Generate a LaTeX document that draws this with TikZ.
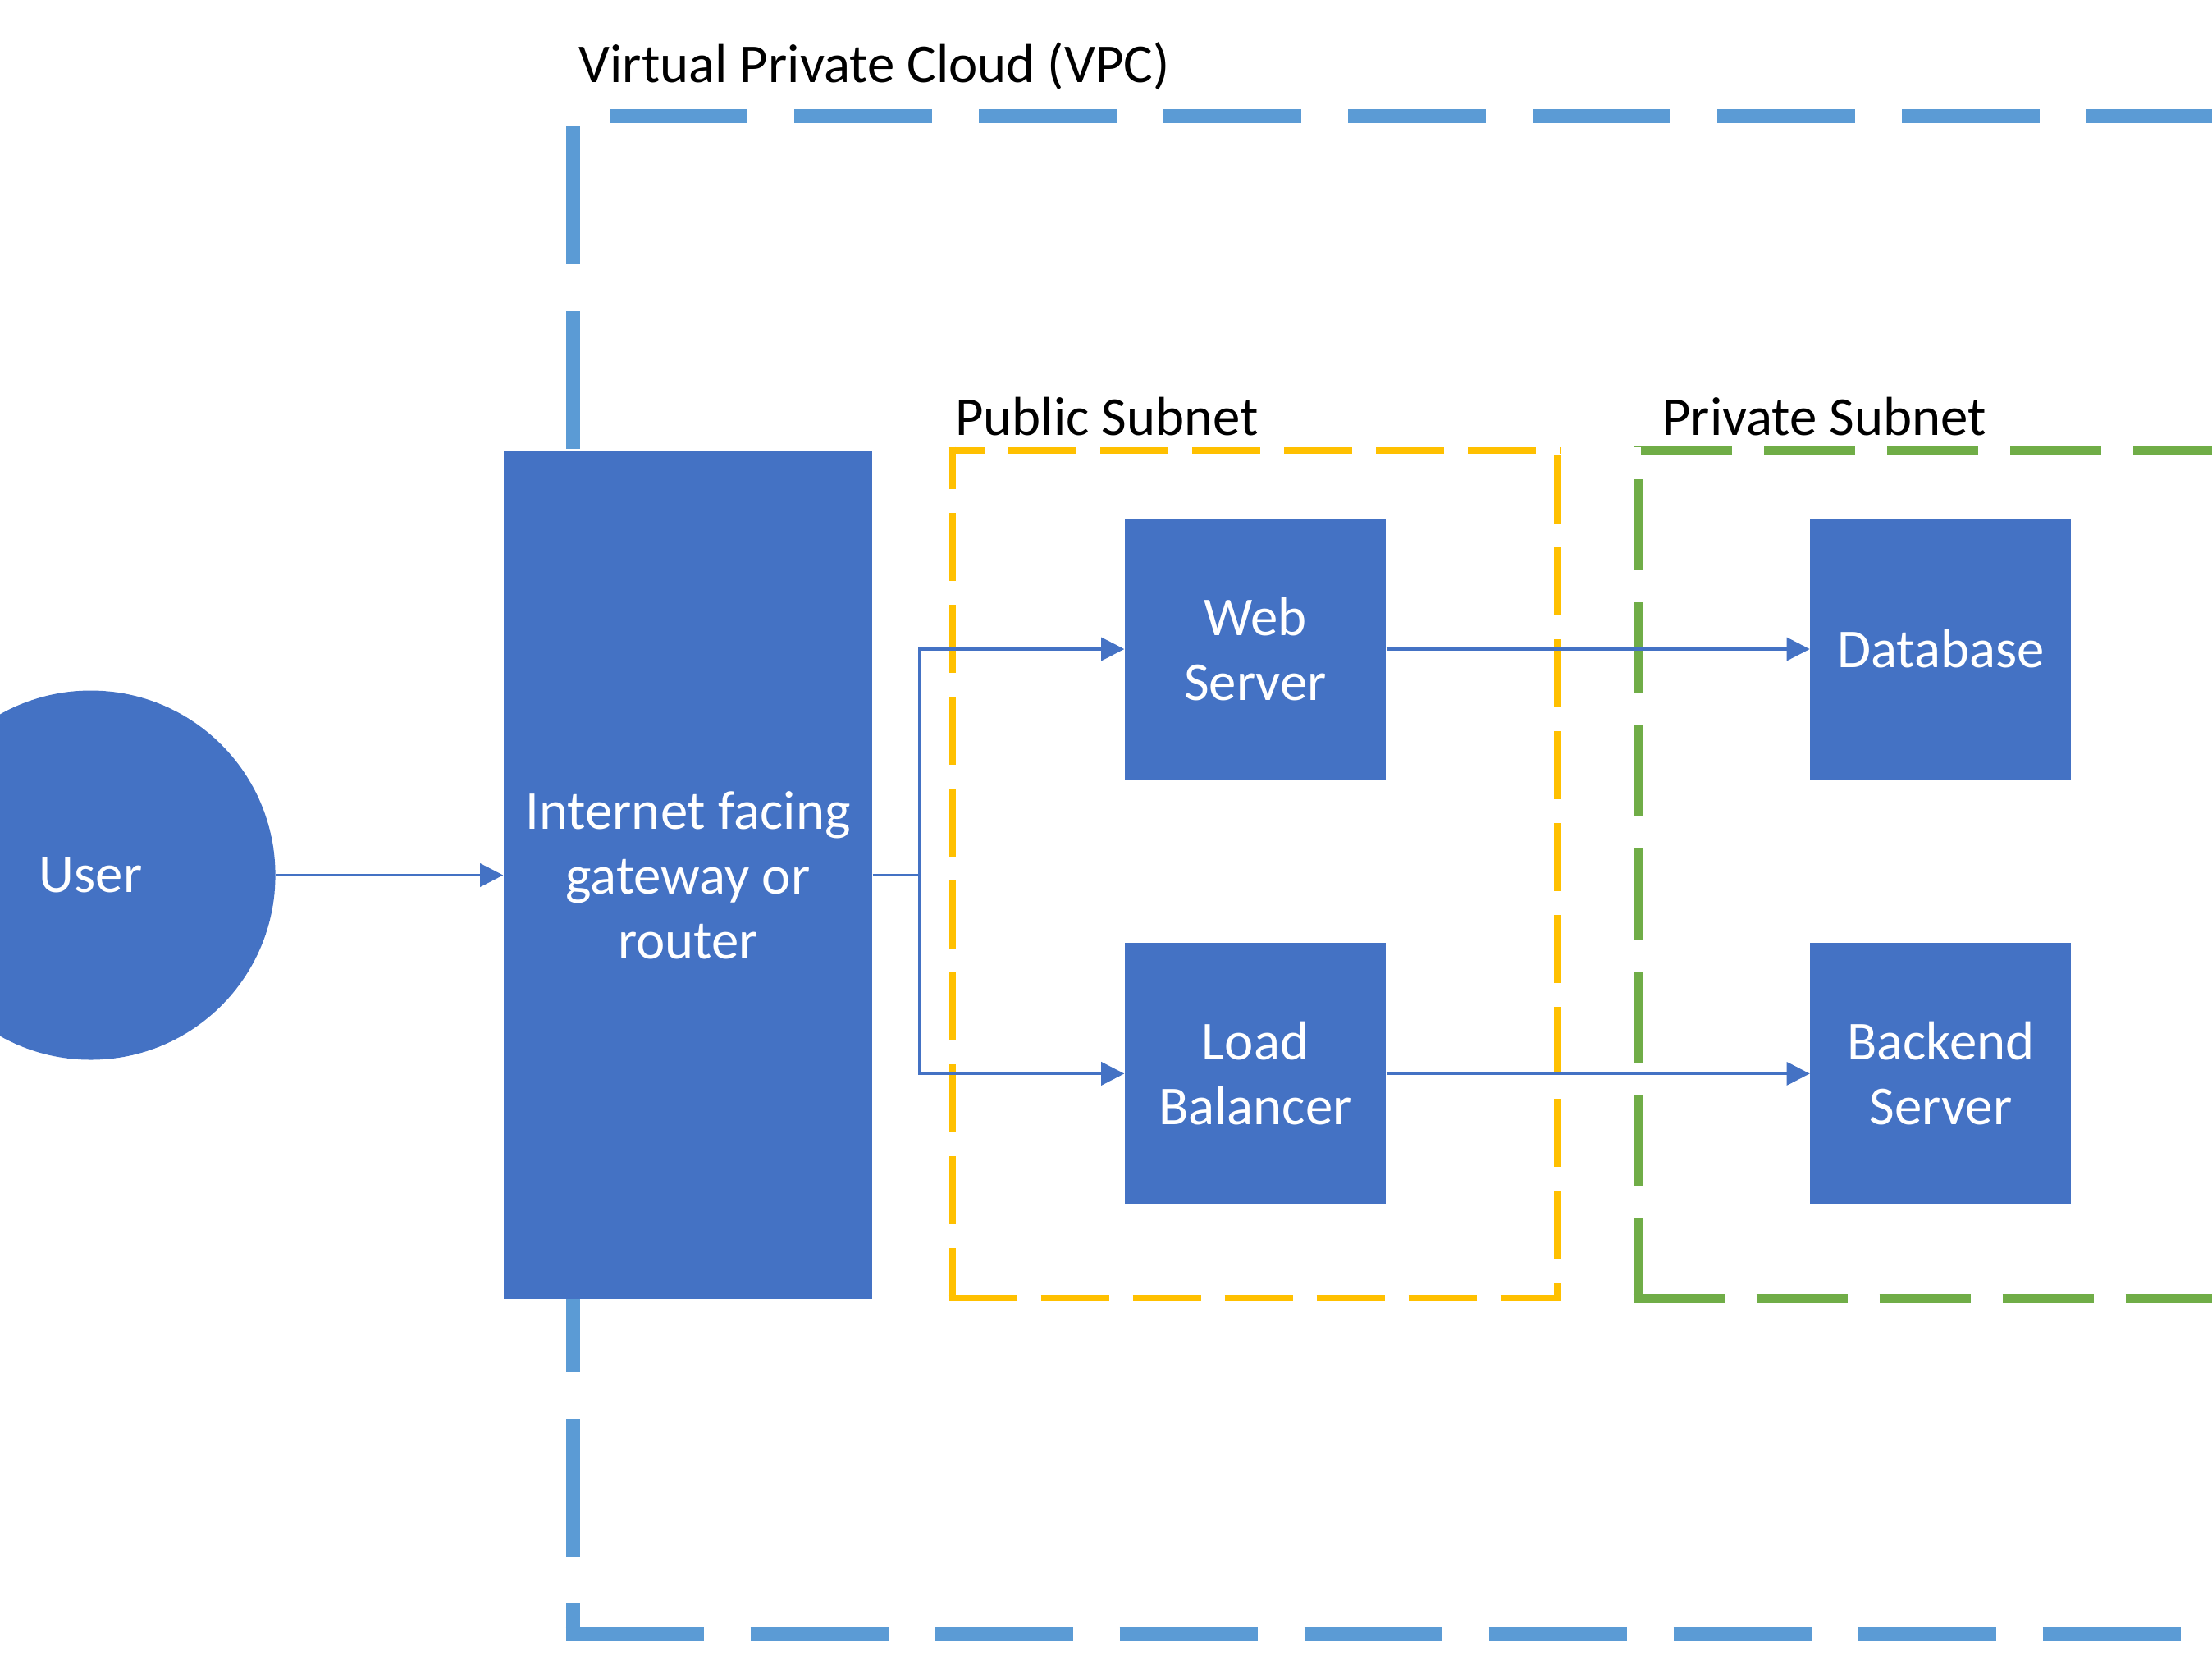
\documentclass[tikz,border=0pt]{standalone}
\usepackage{fontspec}
\setmainfont{Carlito}
\usetikzlibrary{arrows.meta, positioning}

\definecolor{boxblue}{HTML}{4472C4}
\definecolor{vpcblue}{HTML}{5B9BD5}
\definecolor{pubyellow}{HTML}{FFC000}
\definecolor{privgreen}{HTML}{70AD47}

\begin{document}
\begin{tikzpicture}[
    font=\fontsize{19}{22.5}\selectfont,
    >={Triangle[length=8pt, width=8pt]},
    srvbox/.style={rectangle, fill=boxblue, text=white, inner sep=0pt, minimum width=3.18cm, minimum height=3.18cm, align=center},
    gwbox/.style={srvbox, minimum width=4.49cm, minimum height=10.33cm},
    userdot/.style={circle, fill=boxblue, text=white, inner sep=0pt, minimum size=4.5cm},
    flow/.style={->, draw=boxblue, line width=0.95pt},
    wire/.style={draw=boxblue, line width=0.95pt},
    vpcline/.style={draw=vpcblue, line width=0.17cm, dash pattern=on 1.68cm off 0.57cm},
    publine/.style={draw=pubyellow, line width=0.087cm, dash pattern=on 0.83cm off 0.29cm},
    privline/.style={draw=privgreen, line width=0.11cm, dash pattern=on 1.11cm off 0.39cm},
    label/.style={anchor=base west, inner sep=0pt}
]
    \useasboundingbox (0,0) rectangle (26.96,-20.22);
    \clip (0,0) rectangle (26.96,-20.22);

    % VPC frame (right side runs off the page)
    \draw[vpcline, dash phase=1.715cm] (6.895,-1.41) -- (28.0,-1.41);
    \draw[vpcline, dash phase=2.035cm] (6.98,-1.325) -- (6.98,-19.995);
    \draw[vpcline] (6.895,-19.91) -- (28.0,-19.91);
    \node[label] (vpclabel) at (7.05,-1.00) {Virtual Private Cloud (VPC)};

    % public subnet frame
    \draw[publine, dash phase=0.396cm] (11.5665,-5.49) -- (19.0235,-5.49);
    \draw[publine, dash phase=1.0165cm] (18.98,-5.4465) -- (18.98,-15.8635);
    \draw[publine] (11.5665,-15.82) -- (19.0235,-15.82);
    \draw[publine, dash phase=0.3165cm] (11.61,-5.4465) -- (11.61,-15.8635);
    \node[label] (publabel) at (11.635,-5.30) {Public Subnet};

    % private subnet frame
    \draw[privline, dash phase=1.405cm] (19.905,-5.49) -- (27.385,-5.49);
    \draw[privline, dash phase=1.095cm] (19.96,-5.435) -- (19.96,-15.875);
    \draw[privline] (19.905,-15.82) -- (27.385,-15.82);
    \draw[privline] (27.33,-5.435) -- (27.33,-15.875);
    \node[label] (privlabel) at (20.255,-5.30) {Private Subnet};

    % nodes
    \node[gwbox] (gw) at (8.385,-10.665) {Internet facing\\gateway or\\router};
    \node[userdot, left=2.77cm of gw] (user) {User};
    \node[srvbox] (web) at (15.30,-7.91) {Web\\Server};
    \node[srvbox, below=1.98cm of web] (lb) {Load\\Balancer};
    \node[srvbox, right=5.16cm of web] (db) {Database};
    \node[srvbox, right=5.16cm of lb] (be) {Backend\\Server};

    % connectors
    \coordinate[right=0.57cm of gw.east] (split);
    \draw[flow] (user) -- (gw);
    \draw[wire] (gw.east) -- (split);
    \draw[flow] (split) |- (web);
    \draw[flow] (split) |- (lb);
    \draw[flow] (web) -- (db);
    \draw[flow] (lb) -- (be);
\end{tikzpicture}
\end{document}
